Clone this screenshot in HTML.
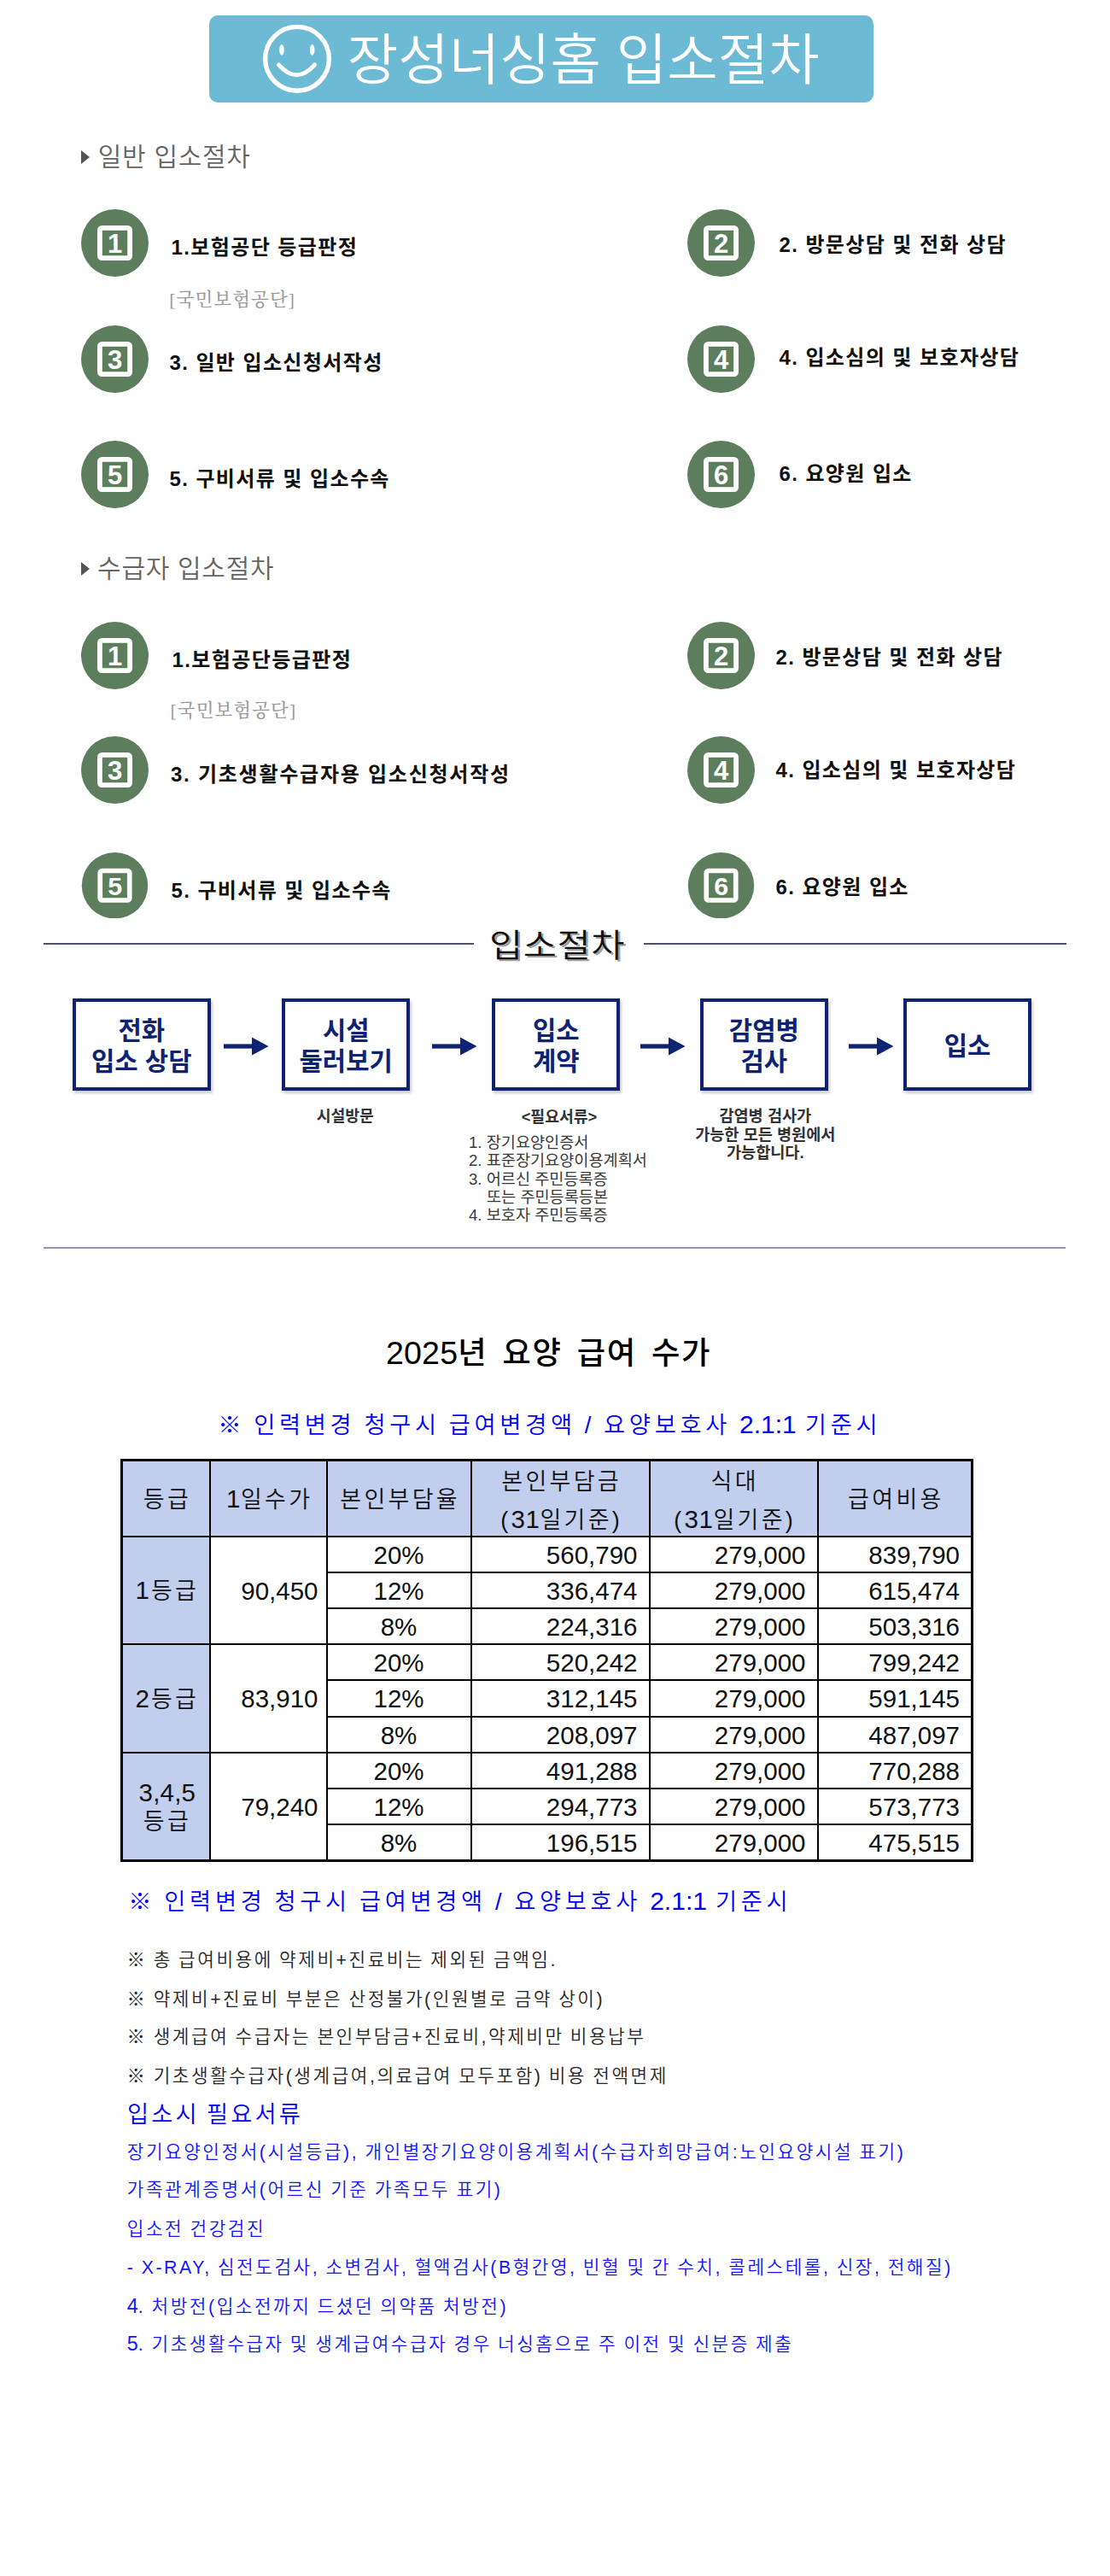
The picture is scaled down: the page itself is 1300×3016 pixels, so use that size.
<!DOCTYPE html>
<html lang="ko"><head><meta charset="utf-8"><title>장성너싱홈 입소절차</title><style>
html,body{margin:0;padding:0;background:#fff;}
body{width:1300px;height:3016px;position:relative;overflow:hidden;}
.abs{position:absolute;}
.fk{font-family:"Liberation Sans","Noto Sans CJK KR",sans-serif;}
.fs{font-family:"Liberation Serif","Noto Serif CJK KR","Noto Serif CJK SC",serif;}
.t{position:absolute;white-space:nowrap;margin:0;}
.n{font-size:1.1em;letter-spacing:0;}
.n2{font-size:1.035em;letter-spacing:0.2px;}
.banner{position:absolute;left:245.4px;top:17.7px;width:778px;height:102.8px;background:#6cbad4;border-radius:10px;}
.tri{position:absolute;width:0;height:0;border-left:10px solid #555;border-top:8px solid transparent;border-bottom:8px solid transparent;}
.hl{position:absolute;height:2px;}
.box{position:absolute;box-sizing:border-box;border:4.6px solid #0e2374;background:#fff;box-shadow:2px 3px 3px rgba(0,0,0,.2);}
.tb{position:absolute;left:141px;top:1708px;border-collapse:collapse;table-layout:fixed;width:996px;border:3px solid #000;font-family:"Liberation Sans","Noto Sans CJK KR",sans-serif;color:#111;}
.tb th,.tb td{border:2px solid #000;padding:1px 0 0 0;height:39px;font-weight:400;font-size:29.5px;line-height:30px;}
.tb tr.r5 td{height:40px;}
.tb th{font-weight:350;font-size:27px;letter-spacing:3.3px;padding-left:3.3px;}
.tb .hd th{height:83px;padding-top:2px;background:#c2ceee;line-height:42px;}
.tb .l1{position:relative;top:1.3px;}
.tb .l2{position:relative;top:3.4px;}
.tb th.g{background:#c2ceee;line-height:33px;}
.tb th .n{font-size:29.5px;letter-spacing:0.6px;}
.tb th.g .n{letter-spacing:2px;}
.tb th.g .n3{font-size:29.5px;letter-spacing:0.2px;}
.tb td.c{text-align:center;}
.tb td.r{text-align:right;padding-right:13px;}
.tb td.v{padding-right:9px;}
</style></head><body>
<div class="banner"></div>
<svg class="abs" style="left:300px;top:20px" width="100" height="100" viewBox="300 20 100 100">
<circle cx="348" cy="68.8" r="37.4" fill="none" stroke="#fff" stroke-width="5.4"/>
<ellipse cx="330" cy="58.4" rx="2.8" ry="6.3" fill="#fff"/>
<ellipse cx="365.7" cy="58.4" rx="2.8" ry="6.3" fill="#fff"/>
<path d="M326.5 75.8 Q347.5 99.5 368.5 75.8" fill="none" stroke="#fff" stroke-width="5" stroke-linecap="round"/>
</svg>
<div class="t fk" style="left:406.8px;top:23.0px;font-size:64.6px;line-height:97px;color:#fff;font-weight:350;">장성너싱홈 입소절차</div>
<div class="tri" style="left:95.3px;top:175.8px"></div>
<div class="t fk" style="left:114.8px;top:160.9px;font-size:30px;line-height:45px;color:#646464;font-weight:350;letter-spacing:0.7px;">일반 입소절차</div>
<div class="tri" style="left:94.6px;top:657.6px"></div>
<div class="t fk" style="left:114.1px;top:642.7px;font-size:30px;line-height:45px;color:#646464;font-weight:350;letter-spacing:0.7px;">수급자 입소절차</div>
<svg class="abs" style="left:94.69999999999999px;top:245.10000000000002px;" width="79" height="79" viewBox="0 0 79 79">
<circle cx="39.5" cy="39.5" r="39.5" fill="#5c7e5d"/>
<rect x="21.9" y="21.9" width="35.2" height="35.2" rx="2.5" fill="none" stroke="#fff" stroke-width="5.8"/>
<text x="39.6" y="50.6" text-anchor="middle" font-family="'Liberation Sans', sans-serif" font-weight="700" font-size="31" fill="#fff">1</text>
</svg>
<div class="t fk" style="left:200.5px;top:271.5px;font-size:24px;line-height:36px;color:#111;font-weight:700;letter-spacing:1.4px;">1.보험공단 등급판정</div>
<div class="t fs" style="left:198.3px;top:334.5px;font-size:21.5px;line-height:32px;color:#9a9a9a;font-weight:500;letter-spacing:1.1px;">[국민보험공단]</div>
<svg class="abs" style="left:805.1px;top:245.10000000000002px;" width="79" height="79" viewBox="0 0 79 79">
<circle cx="39.5" cy="39.5" r="39.5" fill="#5c7e5d"/>
<rect x="21.9" y="21.9" width="35.2" height="35.2" rx="2.5" fill="none" stroke="#fff" stroke-width="5.8"/>
<text x="39.6" y="50.6" text-anchor="middle" font-family="'Liberation Sans', sans-serif" font-weight="700" font-size="31" fill="#fff">2</text>
</svg>
<div class="t fk" style="left:912.5px;top:268.8px;font-size:24px;line-height:36px;color:#111;font-weight:700;letter-spacing:1.4px;">2. 방문상담 및 전화 상담</div>
<svg class="abs" style="left:94.69999999999999px;top:380.9px;" width="79" height="79" viewBox="0 0 79 79">
<circle cx="39.5" cy="39.5" r="39.5" fill="#5c7e5d"/>
<rect x="21.9" y="21.9" width="35.2" height="35.2" rx="2.5" fill="none" stroke="#fff" stroke-width="5.8"/>
<text x="39.6" y="50.6" text-anchor="middle" font-family="'Liberation Sans', sans-serif" font-weight="700" font-size="31" fill="#fff">3</text>
</svg>
<div class="t fk" style="left:198.5px;top:406.8px;font-size:24px;line-height:36px;color:#111;font-weight:700;letter-spacing:1.4px;">3. 일반 입소신청서작성</div>
<svg class="abs" style="left:805.1px;top:380.9px;" width="79" height="79" viewBox="0 0 79 79">
<circle cx="39.5" cy="39.5" r="39.5" fill="#5c7e5d"/>
<rect x="21.9" y="21.9" width="35.2" height="35.2" rx="2.5" fill="none" stroke="#fff" stroke-width="5.8"/>
<text x="39.6" y="50.6" text-anchor="middle" font-family="'Liberation Sans', sans-serif" font-weight="700" font-size="31" fill="#fff">4</text>
</svg>
<div class="t fk" style="left:912.5px;top:400.5px;font-size:24px;line-height:36px;color:#111;font-weight:700;letter-spacing:1.4px;">4. 입소심의 및 보호자상담</div>
<svg class="abs" style="left:94.69999999999999px;top:516.2px;" width="79" height="79" viewBox="0 0 79 79">
<circle cx="39.5" cy="39.5" r="39.5" fill="#5c7e5d"/>
<rect x="21.9" y="21.9" width="35.2" height="35.2" rx="2.5" fill="none" stroke="#fff" stroke-width="5.8"/>
<text x="39.6" y="50.6" text-anchor="middle" font-family="'Liberation Sans', sans-serif" font-weight="700" font-size="31" fill="#fff">5</text>
</svg>
<div class="t fk" style="left:198.5px;top:543.2px;font-size:24px;line-height:36px;color:#111;font-weight:700;letter-spacing:1.4px;">5. 구비서류 및 입소수속</div>
<svg class="abs" style="left:805.1px;top:516.2px;" width="79" height="79" viewBox="0 0 79 79">
<circle cx="39.5" cy="39.5" r="39.5" fill="#5c7e5d"/>
<rect x="21.9" y="21.9" width="35.2" height="35.2" rx="2.5" fill="none" stroke="#fff" stroke-width="5.8"/>
<text x="39.6" y="50.6" text-anchor="middle" font-family="'Liberation Sans', sans-serif" font-weight="700" font-size="31" fill="#fff">6</text>
</svg>
<div class="t fk" style="left:912.5px;top:536.8px;font-size:24px;line-height:36px;color:#111;font-weight:700;letter-spacing:1.4px;">6. 요양원 입소</div>
<svg class="abs" style="left:94.69999999999999px;top:727.6px;" width="79" height="79" viewBox="0 0 79 79">
<circle cx="39.5" cy="39.5" r="39.5" fill="#5c7e5d"/>
<rect x="21.9" y="21.9" width="35.2" height="35.2" rx="2.5" fill="none" stroke="#fff" stroke-width="5.8"/>
<text x="39.6" y="50.6" text-anchor="middle" font-family="'Liberation Sans', sans-serif" font-weight="700" font-size="31" fill="#fff">1</text>
</svg>
<div class="t fk" style="left:201.5px;top:755.0px;font-size:24px;line-height:36px;color:#111;font-weight:700;letter-spacing:1.4px;">1.보험공단등급판정</div>
<div class="t fs" style="left:199.5px;top:816.2px;font-size:21.5px;line-height:32px;color:#9a9a9a;font-weight:500;letter-spacing:1.1px;">[국민보험공단]</div>
<svg class="abs" style="left:805.1px;top:727.6px;" width="79" height="79" viewBox="0 0 79 79">
<circle cx="39.5" cy="39.5" r="39.5" fill="#5c7e5d"/>
<rect x="21.9" y="21.9" width="35.2" height="35.2" rx="2.5" fill="none" stroke="#fff" stroke-width="5.8"/>
<text x="39.6" y="50.6" text-anchor="middle" font-family="'Liberation Sans', sans-serif" font-weight="700" font-size="31" fill="#fff">2</text>
</svg>
<div class="t fk" style="left:908.5px;top:751.5px;font-size:24px;line-height:36px;color:#111;font-weight:700;letter-spacing:1.4px;">2. 방문상담 및 전화 상담</div>
<svg class="abs" style="left:94.69999999999999px;top:862.3px;" width="79" height="79" viewBox="0 0 79 79">
<circle cx="39.5" cy="39.5" r="39.5" fill="#5c7e5d"/>
<rect x="21.9" y="21.9" width="35.2" height="35.2" rx="2.5" fill="none" stroke="#fff" stroke-width="5.8"/>
<text x="39.6" y="50.6" text-anchor="middle" font-family="'Liberation Sans', sans-serif" font-weight="700" font-size="31" fill="#fff">3</text>
</svg>
<div class="t fk" style="left:200px;top:889.3px;font-size:24px;line-height:36px;color:#111;font-weight:700;letter-spacing:1.75px;">3. 기초생활수급자용 입소신청서작성</div>
<svg class="abs" style="left:805.1px;top:862.3px;" width="79" height="79" viewBox="0 0 79 79">
<circle cx="39.5" cy="39.5" r="39.5" fill="#5c7e5d"/>
<rect x="21.9" y="21.9" width="35.2" height="35.2" rx="2.5" fill="none" stroke="#fff" stroke-width="5.8"/>
<text x="39.6" y="50.6" text-anchor="middle" font-family="'Liberation Sans', sans-serif" font-weight="700" font-size="31" fill="#fff">4</text>
</svg>
<div class="t fk" style="left:908.5px;top:884.4px;font-size:24px;line-height:36px;color:#111;font-weight:700;letter-spacing:1.4px;">4. 입소심의 및 보호자상담</div>
<svg class="abs" style="left:94.69999999999999px;top:997.9000000000001px;height:77.5px;overflow:hidden;" width="79" height="79" viewBox="0 0 79 79">
<circle cx="39.5" cy="39.5" r="39.5" fill="#5c7e5d"/>
<rect x="21.9" y="21.9" width="35.2" height="35.2" rx="2.5" fill="none" stroke="#fff" stroke-width="5.8"/>
<text x="39.6" y="50.6" text-anchor="middle" font-family="'Liberation Sans', sans-serif" font-weight="700" font-size="31" fill="#fff">5</text>
</svg>
<div class="t fk" style="left:200.5px;top:1025.4px;font-size:24px;line-height:36px;color:#111;font-weight:700;letter-spacing:1.4px;">5. 구비서류 및 입소수속</div>
<svg class="abs" style="left:805.1px;top:997.9000000000001px;height:77.5px;overflow:hidden;" width="79" height="79" viewBox="0 0 79 79">
<circle cx="39.5" cy="39.5" r="39.5" fill="#5c7e5d"/>
<rect x="21.9" y="21.9" width="35.2" height="35.2" rx="2.5" fill="none" stroke="#fff" stroke-width="5.8"/>
<text x="39.6" y="50.6" text-anchor="middle" font-family="'Liberation Sans', sans-serif" font-weight="700" font-size="31" fill="#fff">6</text>
</svg>
<div class="t fk" style="left:908.5px;top:1020.9px;font-size:24px;line-height:36px;color:#111;font-weight:700;letter-spacing:1.4px;">6. 요양원 입소</div>
<div class="hl" style="left:50.8px;top:1104.2px;width:504px;background:#50506f"></div>
<div class="hl" style="left:754px;top:1104.2px;width:494.5px;background:#50506f"></div>
<div class="hl" style="left:50.8px;top:1459.8px;width:1197.7px;background:#9393b7"></div>
<div class="t fk" style="left:573.3px;top:1078.8px;font-size:37.5px;line-height:56px;color:#111;font-weight:350;letter-spacing:0.5px;text-shadow:2.2px 2px 0.6px rgba(0,0,0,.4);transform:scaleX(1.135);transform-origin:0 50%;">입소절차</div>
<div class="box" style="left:85px;top:1169.3px;width:161.5px;height:107.8px"></div>
<div class="t fk" style="left:65.75px;top:1184.1px;font-size:29.7px;line-height:45px;color:#0e2374;font-weight:700;width:200px;text-align:center;">전화</div>
<div class="t fk" style="left:65.75px;top:1219.8px;font-size:29.7px;line-height:45px;color:#0e2374;font-weight:700;width:200px;text-align:center;">입소 상담</div>
<svg class="abs" style="left:262px;top:1210.5px" width="53" height="28" viewBox="0 0 53 28">
<rect x="0" y="11.4" width="36" height="5.2" fill="#0e2374"/><polygon points="33,3.4 52.5,14 33,24.6" fill="#0e2374"/></svg>
<div class="box" style="left:330.2px;top:1169.3px;width:150px;height:107.8px"></div>
<div class="t fk" style="left:305.2px;top:1184.1px;font-size:29.7px;line-height:45px;color:#0e2374;font-weight:700;width:200px;text-align:center;">시설</div>
<div class="t fk" style="left:305.2px;top:1219.8px;font-size:29.7px;line-height:45px;color:#0e2374;font-weight:700;width:200px;text-align:center;">둘러보기</div>
<svg class="abs" style="left:506px;top:1210.5px" width="53" height="28" viewBox="0 0 53 28">
<rect x="0" y="11.4" width="36" height="5.2" fill="#0e2374"/><polygon points="33,3.4 52.5,14 33,24.6" fill="#0e2374"/></svg>
<div class="box" style="left:576.2px;top:1169.3px;width:150px;height:107.8px"></div>
<div class="t fk" style="left:551.2px;top:1184.1px;font-size:29.7px;line-height:45px;color:#0e2374;font-weight:700;width:200px;text-align:center;">입소</div>
<div class="t fk" style="left:551.2px;top:1219.8px;font-size:29.7px;line-height:45px;color:#0e2374;font-weight:700;width:200px;text-align:center;">계약</div>
<svg class="abs" style="left:749.8px;top:1210.5px" width="53" height="28" viewBox="0 0 53 28">
<rect x="0" y="11.4" width="36" height="5.2" fill="#0e2374"/><polygon points="33,3.4 52.5,14 33,24.6" fill="#0e2374"/></svg>
<div class="box" style="left:819.8px;top:1169.3px;width:150px;height:107.8px"></div>
<div class="t fk" style="left:794.8px;top:1184.1px;font-size:29.7px;line-height:45px;color:#0e2374;font-weight:700;width:200px;text-align:center;">감염병</div>
<div class="t fk" style="left:794.8px;top:1219.8px;font-size:29.7px;line-height:45px;color:#0e2374;font-weight:700;width:200px;text-align:center;">검사</div>
<svg class="abs" style="left:994.3px;top:1210.5px" width="53" height="28" viewBox="0 0 53 28">
<rect x="0" y="11.4" width="36" height="5.2" fill="#0e2374"/><polygon points="33,3.4 52.5,14 33,24.6" fill="#0e2374"/></svg>
<div class="box" style="left:1058.2px;top:1169.3px;width:149.6px;height:107.8px"></div>
<div class="t fk" style="left:1033.0px;top:1202.0px;font-size:29.7px;line-height:45px;color:#0e2374;font-weight:700;width:200px;text-align:center;">입소</div>
<div class="t fk" style="left:304.3px;top:1293.3px;font-size:18.3px;line-height:27px;color:#333;font-weight:700;width:200px;text-align:center;">시설방문</div>
<div class="t fk" style="left:555px;top:1293.7px;font-size:18.3px;line-height:27px;color:#333;font-weight:700;width:200px;text-align:center;">&lt;필요서류&gt;</div>
<div class="t fk" style="left:549px;top:1323.9px;font-size:18.6px;line-height:28px;color:#3a3a3a;font-weight:400;">1. 장기요양인증서</div>
<div class="t fk" style="left:549px;top:1345.3px;font-size:18.6px;line-height:28px;color:#3a3a3a;font-weight:400;">2. 표준장기요양이용계획서</div>
<div class="t fk" style="left:549px;top:1366.7px;font-size:18.6px;line-height:28px;color:#3a3a3a;font-weight:400;">3. 어르신 주민등록증</div>
<div class="t fk" style="left:570px;top:1388.1px;font-size:18.6px;line-height:28px;color:#3a3a3a;font-weight:400;">또는 주민등록등본</div>
<div class="t fk" style="left:549px;top:1408.8px;font-size:18.6px;line-height:28px;color:#3a3a3a;font-weight:400;">4. 보호자 주민등록증</div>
<div class="t fk" style="left:746.3px;top:1292.8px;font-size:18.6px;line-height:28px;color:#333;font-weight:700;width:300px;text-align:center;">감염병 검사가</div>
<div class="t fk" style="left:746.3px;top:1314.6px;font-size:18.6px;line-height:28px;color:#333;font-weight:700;width:300px;text-align:center;">가능한 모든 병원에서</div>
<div class="t fk" style="left:746.3px;top:1336.4px;font-size:18.6px;line-height:28px;color:#333;font-weight:700;width:300px;text-align:center;">가능합니다.</div>
<div class="t fk" style="left:0px;top:1556.6px;font-size:36.3px;line-height:54px;color:#000;font-weight:500;letter-spacing:1.6px;word-spacing:5.6px;width:1285px;text-align:center;"><span class="n2">2025</span>년 요양 급여 수가</div>
<div class="t fk" style="left:255.2px;top:1646.8px;font-size:27.3px;line-height:41px;color:#0000ff;font-weight:350;letter-spacing:4.67px;word-spacing:-2.2px;">※ 인력변경 청구시 급여변경액 / 요양보호사 <span class="n">2.1:1</span> 기준시</div>
<table class="tb"><colgroup><col style="width:103px"><col style="width:137px"><col style="width:169px"><col style="width:209px"><col style="width:197px"><col style="width:181px"></colgroup><tr class="hd"><th>등급</th><th><span class="n">1</span>일수가</th><th>본인부담율</th><th><span class="l1">본인부담금</span><br><span class="l2">(<span class="n">31</span>일기준)</span></th><th><span class="l1">식대</span><br><span class="l2">(<span class="n">31</span>일기준)</span></th><th>급여비용</th></tr><tr><th rowspan="3" class="g"><span class="n">1</span>등급</th><td rowspan="3" class="r v">90,450</td><td class="c">20%</td><td class="r">560,790</td><td class="r">279,000</td><td class="r">839,790</td></tr><tr><td class="c">12%</td><td class="r">336,474</td><td class="r">279,000</td><td class="r">615,474</td></tr><tr><td class="c">8%</td><td class="r">224,316</td><td class="r">279,000</td><td class="r">503,316</td></tr><tr><th rowspan="3" class="g"><span class="n">2</span>등급</th><td rowspan="3" class="r v">83,910</td><td class="c">20%</td><td class="r">520,242</td><td class="r">279,000</td><td class="r">799,242</td></tr><tr class="r5"><td class="c">12%</td><td class="r">312,145</td><td class="r">279,000</td><td class="r">591,145</td></tr><tr><td class="c">8%</td><td class="r">208,097</td><td class="r">279,000</td><td class="r">487,097</td></tr><tr><th rowspan="3" class="g"><span class="n3">3,4,5</span><br>등급</th><td rowspan="3" class="r v">79,240</td><td class="c">20%</td><td class="r">491,288</td><td class="r">279,000</td><td class="r">770,288</td></tr><tr><td class="c">12%</td><td class="r">294,773</td><td class="r">279,000</td><td class="r">573,773</td></tr><tr><td class="c">8%</td><td class="r">196,515</td><td class="r">279,000</td><td class="r">475,515</td></tr></table>
<div class="t fk" style="left:150.3px;top:2205.4px;font-size:27.3px;line-height:41px;color:#0000ff;font-weight:350;letter-spacing:4.67px;word-spacing:-2.2px;">※ 인력변경 청구시 급여변경액 / 요양보호사 <span class="n">2.1:1</span> 기준시</div>
<div class="t fk" style="left:148.6px;top:2279.1px;font-size:21.3px;line-height:32px;color:#262626;font-weight:350;letter-spacing:2.55px;word-spacing:-1.2px;">※ 총 급여비용에 약제비+진료비는 제외된 금액임.</div>
<div class="t fk" style="left:148.6px;top:2324.5px;font-size:21.3px;line-height:32px;color:#262626;font-weight:350;letter-spacing:2.55px;word-spacing:-1.2px;">※ 약제비+진료비 부분은 산정불가(인원별로 금약 상이)</div>
<div class="t fk" style="left:148.6px;top:2369.1px;font-size:21.3px;line-height:32px;color:#262626;font-weight:350;letter-spacing:2.55px;word-spacing:-1.2px;">※ 생계급여 수급자는 본인부담금+진료비,약제비만 비용납부</div>
<div class="t fk" style="left:148.6px;top:2415.1px;font-size:21.3px;line-height:32px;color:#262626;font-weight:350;letter-spacing:2.55px;word-spacing:-1.2px;">※ 기초생활수급자(생계급여,의료급여 모두포함) 비용 전액면제</div>
<div class="t fk" style="left:149px;top:2454.5px;font-size:27.3px;line-height:41px;color:#0000ff;font-weight:350;letter-spacing:3.1px;word-spacing:-2.2px;">입소시 필요서류</div>
<div class="t fk" style="left:148.8px;top:2503.7px;font-size:21.3px;line-height:32px;color:#1414ff;font-weight:350;letter-spacing:2.55px;word-spacing:-1.2px;">장기요양인정서(시설등급), 개인별장기요양이용계획서(수급자희망급여:노인요양시설 표기)</div>
<div class="t fk" style="left:148.8px;top:2548.3px;font-size:21.3px;line-height:32px;color:#1414ff;font-weight:350;letter-spacing:2.55px;word-spacing:-1.2px;">가족관계증명서(어르신 기준 가족모두 표기)</div>
<div class="t fk" style="left:148.8px;top:2593.7px;font-size:21.3px;line-height:32px;color:#1414ff;font-weight:350;letter-spacing:2.55px;word-spacing:-1.2px;">입소전 건강검진</div>
<div class="t fk" style="left:148.8px;top:2638.9px;font-size:21.3px;line-height:32px;color:#1414ff;font-weight:350;letter-spacing:2.55px;word-spacing:-1.2px;">- X-RAY, 심전도검사, 소변검사, 혈액검사(B형간영, 빈혈 및 간 수치, 콜레스테롤, 신장, 전해질)</div>
<div class="t fk" style="left:148.8px;top:2683.5px;font-size:21.3px;line-height:32px;color:#1414ff;font-weight:350;letter-spacing:2.55px;word-spacing:-1.2px;"><span class="n">4</span>. 처방전(입소전까지 드셨던 의약품 처방전)</div>
<div class="t fk" style="left:148.8px;top:2728.1px;font-size:21.3px;line-height:32px;color:#1414ff;font-weight:350;letter-spacing:2.55px;word-spacing:-1.2px;"><span class="n">5</span>. 기초생활수급자 및 생계급여수급자 경우 너싱홈으로 주 이전 및 신분증 제출</div>
</body></html>
